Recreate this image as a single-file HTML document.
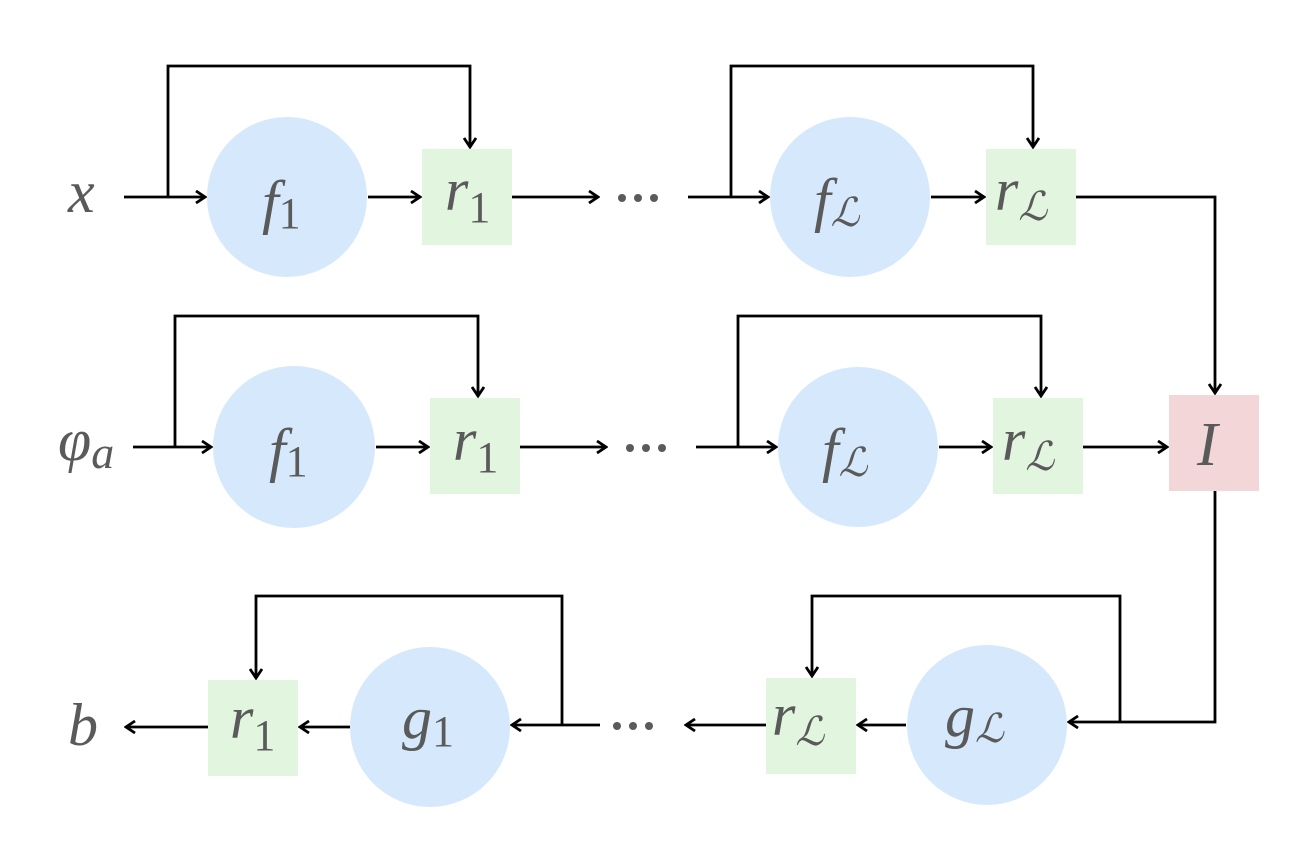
<!DOCTYPE html>
<html><head><meta charset="utf-8"><style>
html,body{margin:0;padding:0;background:#fff;}
svg{display:block;}
text,tspan{font-family:"Liberation Serif","DejaVu Serif",serif;font-style:italic;fill:#5a5a5a;}
.s{font-style:normal;}
</style></head><body>
<svg width="1296" height="858" viewBox="0 0 1296 858" xmlns="http://www.w3.org/2000/svg">
<defs>
<marker id="a" markerWidth="14" markerHeight="14" refX="12" refY="7" orient="auto" markerUnits="userSpaceOnUse">
<path d="M3,1 L12,7 L3,13" fill="none" stroke="#000" stroke-width="2.8"/>
</marker>
</defs>
<g fill="#d6e8fb">
<circle cx="287" cy="197" r="80"/><circle cx="850" cy="197" r="80"/>
<circle cx="294" cy="447" r="81"/><circle cx="858" cy="447" r="80"/>
<circle cx="430" cy="727" r="80"/><circle cx="987" cy="725" r="80"/>
</g>
<g fill="#e2f5df">
<rect x="422" y="149" width="90" height="96"/><rect x="986" y="149" width="90" height="96"/>
<rect x="430" y="398" width="90" height="96"/><rect x="993" y="398" width="90" height="96"/>
<rect x="208" y="680" width="90" height="96"/><rect x="766" y="678" width="90" height="96"/>
</g>
<rect x="1169" y="395" width="90" height="96" fill="#f2d6d8"/>
<g stroke="#000" stroke-width="2.8" fill="none">
<path d="M124,197 H205" marker-end="url(#a)"/>
<path d="M168,197 V66 H470 V147" marker-end="url(#a)"/>
<path d="M368,197 H420" marker-end="url(#a)"/>
<path d="M512,197 H598" marker-end="url(#a)"/>
<path d="M688,197 H768" marker-end="url(#a)"/>
<path d="M731,197 V66 H1033 V147" marker-end="url(#a)"/>
<path d="M931,197 H984" marker-end="url(#a)"/>
<path d="M1076,197 H1215 V393" marker-end="url(#a)"/>
<path d="M133,447 H211" marker-end="url(#a)"/>
<path d="M175,447 V316 H478 V396" marker-end="url(#a)"/>
<path d="M376,447 H428" marker-end="url(#a)"/>
<path d="M520,447 H606" marker-end="url(#a)"/>
<path d="M696,447 H776" marker-end="url(#a)"/>
<path d="M738,447 V316 H1041 V396" marker-end="url(#a)"/>
<path d="M939,447 H991" marker-end="url(#a)"/>
<path d="M1083,447 H1167" marker-end="url(#a)"/>
<path d="M1215,491 V722 H1069" marker-end="url(#a)"/>
<path d="M1120,722 V596 H812 V676" marker-end="url(#a)"/>
<path d="M906,725 H858" marker-end="url(#a)"/>
<path d="M766,725 H686" marker-end="url(#a)"/>
<path d="M600,725 H512" marker-end="url(#a)"/>
<path d="M562,725 V596 H256 V678" marker-end="url(#a)"/>
<path d="M350,727 H300" marker-end="url(#a)"/>
<path d="M208,727 H126" marker-end="url(#a)"/>
</g>
<g fill="#5a5a5a">
<circle cx="622" cy="198" r="4"/><circle cx="638" cy="198" r="4"/><circle cx="654" cy="198" r="4"/>
<circle cx="630" cy="448" r="4"/><circle cx="646" cy="448" r="4"/><circle cx="662" cy="448" r="4"/>
<circle cx="617" cy="726" r="4"/><circle cx="633" cy="726" r="4"/><circle cx="649" cy="726" r="4"/>
</g>
<g font-size="60">
<text x="68" y="212">x</text>
<text x="262" y="222">f<tspan class="s" font-size="44" dy="6">1</tspan></text>
<text x="445" y="210">r<tspan class="s" font-size="44" dy="12">1</tspan></text>
<text x="814" y="220">f<tspan font-size="40" dy="6">ℒ</tspan></text>
<text x="995" y="210">r<tspan font-size="40" dy="10">ℒ</tspan></text>
<text x="58" y="460">φ<tspan font-size="46" dy="8">a</tspan></text>
<text x="269" y="470">f<tspan class="s" font-size="44" dy="6">1</tspan></text>
<text x="453" y="460">r<tspan class="s" font-size="44" dy="12">1</tspan></text>
<text x="822" y="470">f<tspan font-size="40" dy="6">ℒ</tspan></text>
<text x="1002" y="460">r<tspan font-size="40" dy="10">ℒ</tspan></text>
<text x="1197" y="465" font-size="62">I</text>
<text x="68" y="745">b</text>
<text x="230" y="738">r<tspan class="s" font-size="44" dy="12">1</tspan></text>
<text x="402" y="738">g<tspan class="s" font-size="44" dy="8">1</tspan></text>
<text x="772" y="735">r<tspan font-size="40" dy="10">ℒ</tspan></text>
<text x="945" y="736">g<tspan font-size="40" dy="6">ℒ</tspan></text>
</g>
</svg>
</body></html>
